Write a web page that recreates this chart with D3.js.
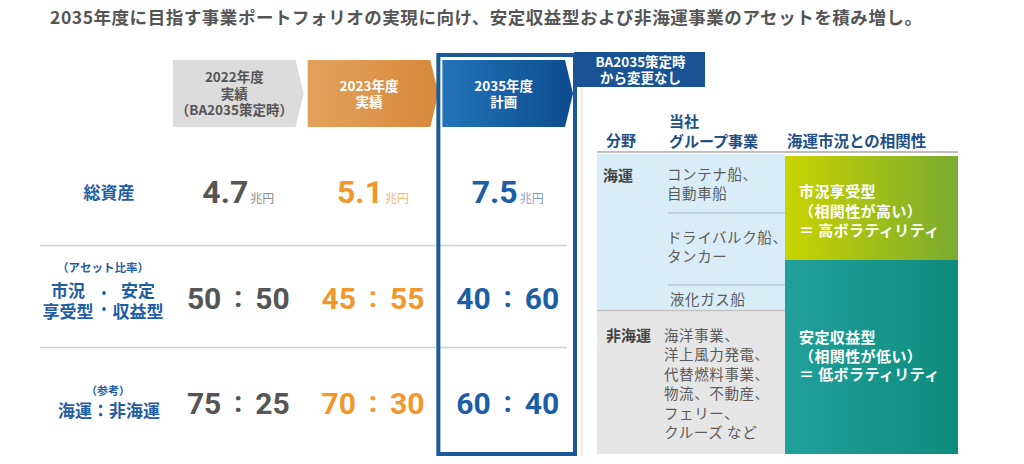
<!DOCTYPE html>
<html><head><meta charset="utf-8">
<script src="https://cdn.jsdelivr.net/npm/d3@7"></script>
<style>body{margin:0;background:#fff;}svg{display:block}</style>
</head><body><svg id="c" width="1024" height="464"></svg>
<script>
// ---------- data ----------
const title = "2035年度に目指す事業ポートフォリオの実現に向け、安定収益型および非海運事業のアセットを積み増し。";
const years = ["2022", "2023", "2035"];
const headerLines = [["2022年度", "実績", "（BA2035策定時）"], ["2023年度", "実績"], ["2035年度", "計画"]];
const rowKeys = ["assets", "assetRatio", "shippingRatio"];
const totalAssets = [4.7, 5.1, 7.5];
const unit = "兆円";
const assetRatio = [[50, 50], [45, 55], [40, 60]];
const shippingRatio = [[75, 25], [70, 30], [60, 40]];
const bannerLines = ["BA2035策定時", "から変更なし"];
const rightHeaders = ["分野", "当社", "グループ事業", "海運市況との相関性"];
const shippingItems = [["コンテナ船、", "自動車船"], ["ドライバルク船、", "タンカー"], ["液化ガス船"]];
const nonShippingItems = ["海洋事業、", "洋上風力発電、", "代替燃料事業、", "物流、不動産、", "フェリー、", "クルーズ など"];
const correlationHigh = ["市況享受型", "（相関性が高い）", "＝ 高ボラティリティ"];
const correlationLow = ["安定収益型", "（相関性が低い）", "＝ 低ボラティリティ"];

// ---------- drawing ----------
const JP = "'Noto Sans CJK JP', 'Noto Sans', sans-serif";
const NUM = "Roboto, 'Noto Sans', sans-serif";
const svg = d3.select("#c");
const defs = svg.append("defs");
function grad(id, c1, c2) {
  const g = defs.append("linearGradient").attr("id", id).attr("x1", "0%").attr("x2", "100%");
  g.append("stop").attr("offset", "0%").attr("stop-color", c1);
  g.append("stop").attr("offset", "100%").attr("stop-color", c2);
}
grad("gOrange", "#e3a25c", "#d7893b");
grad("gBlue", "#2373b9", "#0d4b8e");
grad("gGreen", "#c9d300", "#7aab30");
grad("gTeal", "#22a19c", "#0d8b7c");

const colText = ["#555555", "#f2972c", "#1b5ea6"];
const unitText = ["#8a8a8a", "#f2b77b", "#7f9cc0"];
const chevFill = ["#dcdcdc", "url(#gOrange)", "url(#gBlue)"];
const chevTextColor = ["#555555", "#ffffff", "#ffffff"];
const labelBlue = "#1f5ea6";

// multi-line text block as one <text> with tspans
function block(xp, y0, lines, lh, anchor) {
  const t = svg.append("text").attr("x", xp).attr("y", y0).attr("text-anchor", anchor || "start");
  t.selectAll("tspan").data(lines).join("tspan").attr("x", xp).attr("dy", (d, k) => k === 0 ? 0 : lh).text(d => d);
  return t;
}

const x = d3.scaleBand().domain(years).range([173, 573]).paddingInner(0.03);
const cx = d => x(d) + x.bandwidth() / 2;
const y = d3.scalePoint().domain(rowKeys).range([192, 402]);

// title
svg.append("text").attr("x", 50).attr("y", 24).attr("textLength", 872).attr("lengthAdjust", "spacing")
  .style("font-family", JP).style("font-weight", 700).style("font-size", "17.5px").attr("fill", "#555")
  .text(title);

// row separators
const seps = [(y("assets") + y("assetRatio")) / 2 + 1, (y("assetRatio") + y("shippingRatio")) / 2 - 2];
svg.selectAll("line.sep").data(seps).join("line").attr("class", "sep")
  .attr("x1", 40).attr("x2", 567).attr("y1", d => d).attr("y2", d => d)
  .attr("stroke", "#cfcfcf").attr("stroke-width", 1.5);

// light vertical line next to box
svg.append("line").attr("x1", 582).attr("x2", 582).attr("y1", 88).attr("y2", 456)
  .attr("stroke", "#d4d4d4").attr("stroke-width", 1);

// chevrons
const chevTop = 60, chevBot = 127, tip = 8;
svg.selectAll("path.chev").data(years).join("path").attr("class", "chev")
  .attr("d", d => {
    const x0 = x(d), x1 = x(d) + x.bandwidth();
    const m = (chevTop + chevBot) / 2;
    return `M${x0},${chevTop}L${x1 - tip},${chevTop}L${x1},${m}L${x1 - tip},${chevBot}L${x0},${chevBot}Z`;
  })
  .attr("fill", (d, i) => chevFill[i]);

years.forEach((yr, i) => {
  const lines = headerLines[i];
  const lh = i === 0 ? 16.5 : 16;
  const mid = (chevTop + chevBot) / 2;
  const start = mid - (lines.length - 1) * lh / 2 + 5;
  block(cx(yr) - 4, start, lines, lh, "middle")
    .style("font-family", JP).style("font-weight", 700)
    .style("font-size", "13.5px").attr("fill", chevTextColor[i]);
});

// highlight box for 2035
const bx0 = x("2035") - 4, bx1 = x("2035") + x.bandwidth() + 2;
svg.append("rect").attr("x", bx0).attr("y", 55).attr("width", bx1 - bx0).attr("height", 399)
  .attr("fill", "none").attr("stroke", "#1a5a9c").attr("stroke-width", 4);

// banner
svg.append("rect").attr("x", bx1 - 1).attr("y", 52).attr("width", 706 - bx1).attr("height", 35).attr("fill", "#1a5394");
block((bx1 + 706) / 2, 67, bannerLines, 16, "middle")
  .style("font-family", JP).style("font-weight", 700).style("font-size", "13.5px").attr("fill", "#fff");

// left labels
svg.append("text").attr("x", 109).attr("y", y("assets") + 7).attr("text-anchor", "middle")
  .style("font-family", JP).style("font-weight", 700).style("font-size", "17px").attr("fill", labelBlue).text("総資産");

const r2 = y("assetRatio");
svg.append("text").attr("x", 103).attr("y", r2 - 25).attr("text-anchor", "middle")
  .style("font-family", JP).style("font-weight", 700).style("font-size", "11.5px").attr("fill", labelBlue).text("（アセット比率）");
[["市況", "享受型", 68], ["安定", "収益型", 138]].forEach(([a, b, xx]) => {
  block(xx, r2, [a, b], 21, "middle")
    .style("font-family", JP).style("font-weight", 700).style("font-size", "17px").attr("fill", labelBlue);
});
svg.selectAll("circle.dot").data([r2 - 4, r2 + 12]).join("circle").attr("class", "dot")
  .attr("cx", 104).attr("cy", d => d).attr("r", 1.9).attr("fill", labelBlue);

const r3 = y("shippingRatio");
svg.append("text").attr("x", 108).attr("y", r3 - 7).attr("text-anchor", "middle")
  .style("font-family", JP).style("font-weight", 700).style("font-size", "11px").attr("fill", labelBlue).text("（参考）");
svg.append("text").attr("x", 109).attr("y", r3 + 15).attr("text-anchor", "middle")
  .style("font-family", JP).style("font-weight", 700).style("font-size", "17px").attr("fill", labelBlue).text("海運：非海運");

// total assets values
years.forEach((yr, i) => {
  const t = svg.append("text").attr("x", cx(yr)).attr("y", y("assets") + 10.5).attr("text-anchor", "middle");
  t.append("tspan").style("font-family", NUM).style("font-weight", 700).style("font-size", "32px")
    .attr("fill", colText[i]).text(d3.format(".1f")(totalAssets[i]));
  t.append("tspan").style("font-family", JP).style("font-size", "12px").attr("fill", unitText[i]).attr("dx", 2).text(unit);
});

// ratios
function ratioRow(data, key, dy) {
  years.forEach((yr, i) => {
    const c = cx(yr), yy = y(key) + dy;
    const common = s => s.style("font-family", NUM).style("font-weight", 700).style("font-size", "30px").attr("fill", colText[i]);
    common(svg.append("text").attr("x", c - 17).attr("y", yy).attr("text-anchor", "end").text(data[i][0]));
    common(svg.append("text").attr("x", c).attr("y", yy - 2).attr("text-anchor", "middle").text(":"));
    common(svg.append("text").attr("x", c + 17).attr("y", yy).attr("text-anchor", "start").text(data[i][1]));
  });
}
ratioRow(assetRatio, "assetRatio", 12);
ratioRow(shippingRatio, "shippingRatio", 12);

// ---------- right table ----------
const tL = 597, tM = 785, tR = 958;
const hdr = "#1e4f87";
svg.append("text").attr("x", 606).attr("y", 146).style("font-family", JP).style("font-weight", 700).style("font-size", "15px").attr("fill", hdr).text(rightHeaders[0]);
block(669, 127, [rightHeaders[1], rightHeaders[2]], 20).style("font-family", JP).style("font-weight", 700).style("font-size", "15px").attr("fill", hdr);
svg.append("text").attr("x", 787).attr("y", 147).style("font-family", JP).style("font-weight", 700).style("font-size", "15.5px").attr("fill", hdr).text(rightHeaders[3]);
svg.append("line").attr("x1", tL).attr("x2", tR).attr("y1", 152).attr("y2", 152).attr("stroke", "#bdbdbd").attr("stroke-width", 2);

svg.append("rect").attr("x", tL).attr("y", 154).attr("width", tM - tL).attr("height", 156).attr("fill", "#d8edf8");
svg.append("rect").attr("x", tL).attr("y", 311).attr("width", tM - tL).attr("height", 143).attr("fill", "#e6e6e6");
svg.append("line").attr("x1", tL).attr("x2", tM).attr("y1", 310.5).attr("y2", 310.5).attr("stroke", "#c4c4c4").attr("stroke-width", 1.5);
svg.append("rect").attr("x", tM).attr("y", 156).attr("width", tR - tM).attr("height", 104).attr("fill", "url(#gGreen)");
svg.append("rect").attr("x", tM).attr("y", 260).attr("width", tR - tM).attr("height", 194).attr("fill", "url(#gTeal)");

svg.selectAll("line.div").data([213, 285]).join("line").attr("class", "div")
  .attr("x1", 668).attr("x2", tM).attr("y1", d => d).attr("y2", d => d).attr("stroke", "#b9c9d5").attr("stroke-width", 1.5);

const bodyStyle = s => s.style("font-family", JP).style("font-size", "14.5px").style("letter-spacing", "0.6px").attr("fill", "#5a5a5a");
svg.append("text").attr("x", 603).attr("y", 181).style("font-family", JP).style("font-weight", 700).style("font-size", "15px").attr("fill", "#444").text("海運");
svg.append("text").attr("x", 606).attr("y", 341).style("font-family", JP).style("font-weight", 700).style("font-size", "15px").attr("fill", "#444").text("非海運");

const groupTops = [180, 243, 305];
shippingItems.forEach((lines, g) => {
  bodyStyle(block(g === 2 ? 670 : 667, groupTops[g], lines, 19));
});
bodyStyle(block(664, 341, nonShippingItems, 19.4));

const corrStyle = s => s.style("font-family", JP).style("font-weight", 700).style("font-size", "15px").style("letter-spacing", "0.4px").attr("fill", "#fff");
corrStyle(block(799, 197, correlationHigh, 19.5));
corrStyle(block(799, 343, correlationLow, 18.5));
</script></body></html>
